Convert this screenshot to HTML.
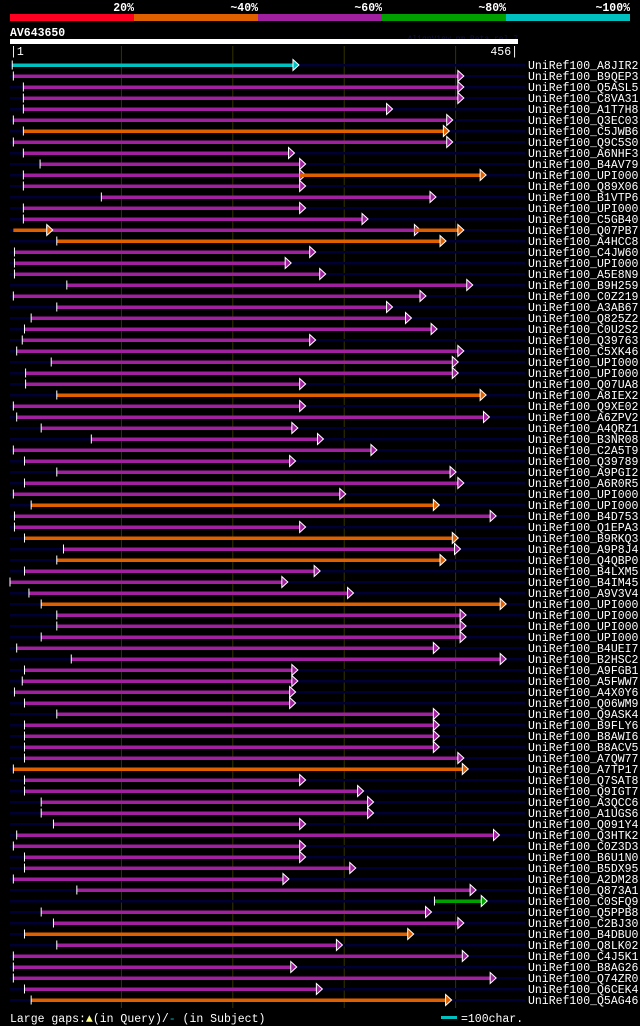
<!DOCTYPE html>
<html><head><meta charset="utf-8"><style>
html,body{margin:0;padding:0;background:#000;}
svg{display:block;}
text{font-family:"Liberation Mono",monospace;fill:#fff;}
</style></head><body>
<svg id="chart" width="640" height="1026" xmlns="http://www.w3.org/2000/svg">
<g>
<rect x="10" y="14" width="124" height="7" fill="#ff0020"/>
<rect x="134" y="14" width="124" height="7" fill="#e06000"/>
<rect x="258" y="14" width="124" height="7" fill="#a020a0"/>
<rect x="382" y="14" width="124" height="7" fill="#00a000"/>
<rect x="506" y="14" width="124" height="7" fill="#00c0c0"/>
<text x="134" y="11" text-anchor="end" font-size="11.5" font-weight="bold">20%</text>
<text x="258" y="11" text-anchor="end" font-size="11.5" font-weight="bold">~40%</text>
<text x="382" y="11" text-anchor="end" font-size="11.5" font-weight="bold">~60%</text>
<text x="506" y="11" text-anchor="end" font-size="11.5" font-weight="bold">~80%</text>
<text x="630" y="11" text-anchor="end" font-size="11.5" font-weight="bold">~100%</text>
</g>
<text x="10" y="36" font-size="11.5" font-weight="bold">AV643650</text>
<text x="518" y="41" text-anchor="end" font-size="8" style="fill:#101040">AlignView.pm Beta rel.7</text>
<rect x="10" y="39" width="508" height="5" fill="#fff"/>
<text x="10" y="55" font-size="11.5">|1</text>
<text x="518" y="55" text-anchor="end" font-size="11.5">456|</text>
<g id="grid"></g>
<g id="rows"></g>
<g>
<text x="10" y="1022" font-size="11.5">Large gaps:<tspan fill="#ffff80">▲</tspan>(in Query)/<tspan style="fill:#00c0c0">-</tspan> (in Subject)</text>
<rect x="441" y="1016" width="16" height="3" fill="#00c0c0"/>
<text x="461" y="1022" font-size="11.5">=100char.</text>
</g>
</svg>
<script>
const names=["A8JIR2","B9QEP3","Q5ASL5","C8VA31","A1T7H8","Q3EC03","C5JWB6","Q9C5S0","A6NHF3","B4AV79","UPI000..","Q89X06","B1VTP6","UPI000..","C5GB40","Q07PB7","A4HCC8","C4JW60","UPI000..","A5E8N9","B9H259","C0Z219","A3AB67","Q825Z2","C0U2S2","Q39763","C5XK46","UPI000..","UPI000..","Q07UA8","A8IEX2","Q9XE02","A6ZPV2","A4QRZ1","B3NR08","C2A5T9","Q39789","A9PGI2","A6R0R5","UPI000..","UPI000..","B4D753","Q1EPA3","B9RKQ3","A9P8J4","Q4QBP0","B4LXM5","B4IM45","A9V3V4","UPI000..","UPI000..","UPI000..","UPI000..","B4UEI7","B2HSC2","A9FGB1","A5FWW7","A4X0Y6","Q06WM9","Q9ASK4","B9FLY6","B8AWI6","B8ACV5","A7QW77","A7TP17","Q7SAT8","Q9IGT7","A3QCC6","A1UGS6","Q091Y4","Q3HTK2","C0Z3D3","B6U1N0","B5DX95","A2DM28","Q873A1","C0SFQ9","Q5PPB8","C2BJ30","B4DBU0","Q8LK02","C4J5K1","B8AG26","Q74ZR0","Q6CEK4","Q5AG46"];
const starts=[2,3,12,12,12,3,12,3,12,27,12,12,82,12,12,33,42,4,4,4,51,3,42,19,13,11,6,37,14,14,42,3,6,28,73,3,13,42,13,3,19,4,4,13,48,42,13,0,17,28,42,42,28,6,55,13,11,4,13,42,13,13,13,13,3,13,13,28,28,39,6,3,13,13,3,60,381,28,39,13,42,3,3,3,13,19];
const ends=[254,402,402,402,338,392,389,392,250,260,260,260,377,260,316,363,386,269,247,278,410,368,338,355,378,269,402,397,397,260,422,260,425,253,276,324,251,395,402,296,380,431,260,397,399,386,273,244,303,440,404,404,404,380,440,253,253,251,251,380,380,380,380,402,406,260,312,321,321,260,434,260,260,305,245,413,423,373,402,357,293,406,252,431,275,391];
const colors=["c","m","m","m","m","m","o","m","m","m","m","m","m","m","m","m","o","m","m","m","m","m","m","m","m","m","m","m","m","m","o","m","m","m","m","m","m","m","m","m","o","m","m","o","m","o","m","m","m","o","m","m","m","m","m","m","m","m","m","m","m","m","m","m","o","m","m","m","m","m","m","m","m","m","m","m","g","m","m","o","m","m","m","m","m","o"];
const extraRow=[10,15,15];
const extraStart=[260,3,363];
const extraEnd=[422,33,402];
const extraColor=["o","o","o"];
const gridTicks=[100,200,300,400];

const pal={m:"#a020a0",o:"#e06000",c:"#00c0c0",g:"#00a000"};
const NS="http://www.w3.org/2000/svg";
const xs=r=>10+r*(508/456);
const ys=i=>65+i*11;
function mk(tag,attrs,parent){const e=document.createElementNS(NS,tag);for(const k in attrs)e.setAttribute(k,attrs[k]);parent.appendChild(e);return e;}
const grid=document.getElementById('grid'), rows=document.getElementById('rows');
gridTicks.forEach(t=>{
 const l=mk('line',{x1:xs(t),x2:xs(t),y1:46,y2:1008,stroke:'#333300','stroke-width':1},grid);
 
 
});
function seg(g,s,e,c,y,tick){
 const ln=mk('rect',{x:xs(s),y:y-1.5,width:Math.max(1,xs(e)-xs(s)),height:3.5,fill:pal[c]},g);
 
 
 const xe=xs(e);
 const ar=mk('polygon',{points:`${xe},${y-5.5} ${xe+6},${y} ${xe},${y+5.5}`,fill:pal[c],stroke:'#fff','stroke-width':1},g);
 
 
 if(tick){
  const tk=mk('rect',{x:xs(s)-0.5,y:y-4.5,width:1,height:9,fill:'#fff'},g);
  
  
 }
}
names.forEach((n,i)=>{
 const y=ys(i);
 const g=mk('g',{},rows);
 
 
 const bg=mk('rect',{x:10,y:y-1,width:515,height:2.5,fill:'#000033'},g);
 
 
 seg(g,starts[i],ends[i],colors[i],y,true);
 const t=mk('text',{x:528,y:y+4,'font-size':'11.5'},g);
 t.textContent='UniRef100_'+n;
 
 
});
extraRow.forEach((r,k)=>{
 seg(rows,extraStart[k],extraEnd[k],extraColor[k],ys(r),false);
});
</script>
</body></html>
